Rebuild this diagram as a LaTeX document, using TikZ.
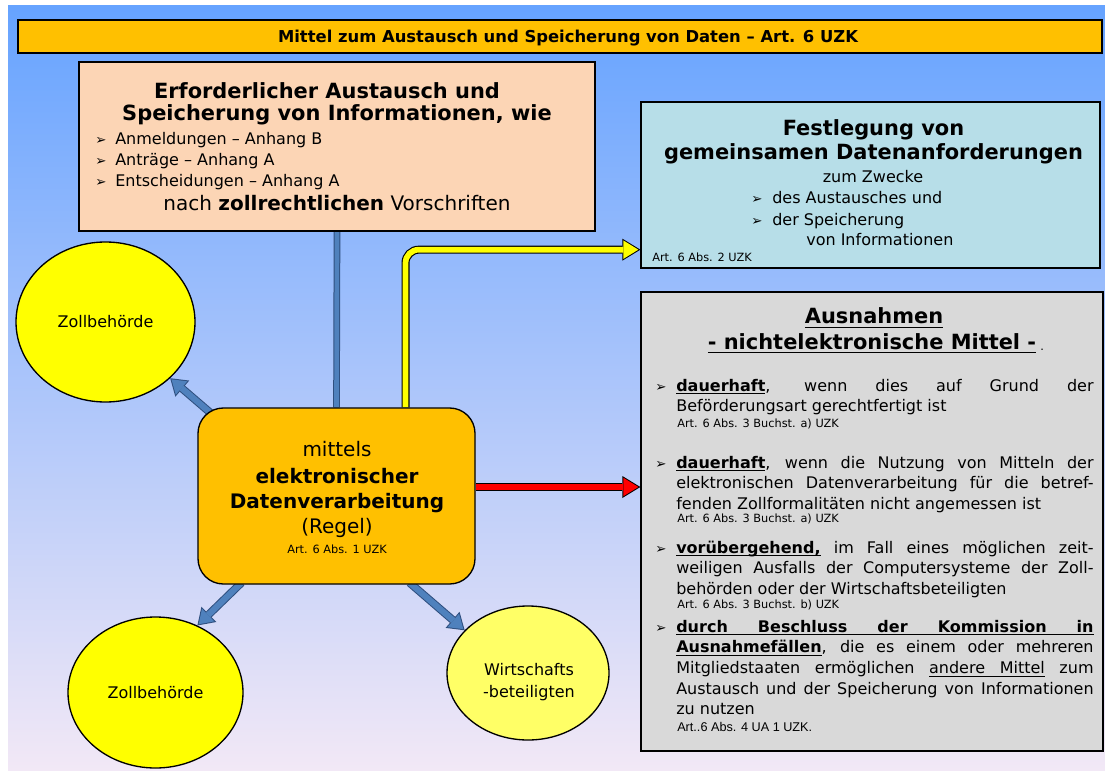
\documentclass[tikz,border=0pt]{standalone}
\usepackage{fontspec}
\setmainfont{DejaVu Sans}
\newfontfamily\arialf{Liberation Sans}
\usetikzlibrary{shapes.geometric,arrows.meta,calc}
\pgfdeclarelayer{bg}
\pgfsetlayers{bg,main}

\definecolor{bgtop}{HTML}{66A3FF}
\definecolor{bgmid}{HTML}{8DC1FF}
\definecolor{bgbot}{HTML}{F2E8F6}
\definecolor{titleor}{HTML}{FFC000}
\definecolor{peach}{HTML}{FCD5B5}
\definecolor{lblue}{HTML}{B7DEE8}
\definecolor{lgray}{HTML}{D9D9D9}
\definecolor{orbox}{HTML}{FFC000}
\definecolor{yel}{HTML}{FFFF00}
\definecolor{yeltwo}{HTML}{FFFF66}
\definecolor{steel}{HTML}{4F81BD}
\definecolor{steeldark}{HTML}{2F4F7F}
\definecolor{redarrow}{HTML}{FF0000}

\newcommand\fsBody{\fontsize{12pt}{15.5pt}\selectfont}
\newcommand\fsHead{\fontsize{15.7pt}{17pt}\selectfont\bfseries}
\newcommand\fsBig{\fontsize{15pt}{17pt}\selectfont}
\newcommand\fsRef{\fontsize{8.5pt}{10pt}\selectfont}
\newcommand\bul{{\fontsize{10pt}{12pt}\selectfont ➢}}
% underline helpers
\newcommand\ulw[1]{\leavevmode\setbox0\hbox{#1}\rlap{\vrule height -0.12em depth 0.19em width \wd0}\box0\relax}
\newcommand\ulsp{\leaders\hrule height -0.12em depth 0.19em\hskip\fontdimen2\font plus \fontdimen3\font minus \fontdimen4\font\relax}

\tikzset{
  box/.style={draw=black, line width=1pt, inner sep=0pt},
  tl/.style={inner sep=0pt, anchor=base west},
  tc/.style={inner sep=0pt, anchor=base},
  para/.style={inner sep=0pt, anchor=north west, text width=313pt, align=justify, font=\fsBody},
  barout/.style={draw=steeldark, line width=5pt},
  barin/.style={draw=steel, line width=3.5pt},
  blout/.style={draw=steeldark, line width=6pt, -{Triangle[width=16pt,length=12pt,line width=0pt]}},
  blin/.style={draw=steel, line width=4.5pt, shorten >=1.35pt, -{Triangle[width=13.2pt,length=9.9pt,line width=0pt]}},
  yelout/.style={draw=black, line width=6pt, rounded corners=10pt, -{Triangle[width=16.5pt,length=13.5pt,line width=0pt]}},
  yelin/.style={draw=yel, line width=4.3pt, rounded corners=10pt, shorten >=1.47pt, -{Triangle[width=13.9pt,length=11.3pt,line width=0pt]}},
  redout/.style={draw=black, line width=6pt, -{Triangle[width=16.5pt,length=13.5pt,line width=0pt]}},
  redin/.style={draw=redarrow, line width=4.3pt, shorten >=1.47pt, -{Triangle[width=13.9pt,length=11.3pt,line width=0pt]}},
}

\begin{document}
\begin{tikzpicture}[x=0.75pt,y=-0.75pt]
\useasboundingbox (0,0) rectangle (1105,773);
\begin{pgfonlayer}{bg}
\fill[white] (0,0) rectangle (1105,773);
\shade[top color=bgtop, middle color=bgmid, bottom color=bgbot] (8,6) rectangle (1105,770);
\end{pgfonlayer}

% title bar
\node[box, fill=titleor, line width=2pt, minimum width=813pt, minimum height=24.75pt] (title) at (560,36.5) {};
\node[tc, font=\fontsize{12.3pt}{14pt}\selectfont\bfseries] (titletext) at (568,43) {Mittel zum Austausch und Speicherung von Daten – Art. 6 UZK};

% peach box
\node[box, fill=peach, minimum width=387pt, minimum height=126.75pt] (peach) at (337,146.5) {};
\node[tc, font=\fsHead] (p1) at (327,99) {Erforderlicher Austausch und};
\node[tc, font=\fsHead] (p2) at (337,121) {Speicherung von Informationen, wie};
\node[tl, font=\fsBody] (pb1) at (95,145) {\bul};
\node[tl, font=\fsBody] (pi1) at (115,145) {Anmeldungen – Anhang B};
\node[tl, font=\fsBody] (pb2) at (95,166) {\bul};
\node[tl, font=\fsBody] (pi2) at (115,166) {Anträge – Anhang A};
\node[tl, font=\fsBody] (pb3) at (95,186.5) {\bul};
\node[tl, font=\fsBody] (pi3) at (115,186.5) {Entscheidungen – Anhang A};
\node[tc, font=\fsBig] (p3) at (337,211) {nach \textbf{zollrechtlichen} Vorschriften};

% light blue box
\node[box, fill=lblue, minimum width=344.25pt, minimum height=124.5pt] (lblue) at (870.5,185) {};
\node[tc, font=\fsHead] (l1) at (873.5,135.5) {Festlegung von};
\node[tc, font=\fsHead] (l2) at (873.5,160) {gemeinsamen Datenanforderungen};
\node[tc, font=\fsBody] (l3) at (873,183) {zum Zwecke};
\node[tl, font=\fsBody] (lb1) at (751,204) {\bul};
\node[tl, font=\fsBody] (li1) at (772,204) {des Austausches und};
\node[tl, font=\fsBody] (lb2) at (751,226) {\bul};
\node[tl, font=\fsBody] (li2) at (772,226) {der Speicherung};
\node[tl, font=\fsBody] (li3) at (806,246) {von Informationen};
\node[tl, font=\fsRef] (lr) at (652,262) {Art. 6 Abs. 2 UZK};

% gray box
\node[box, fill=lgray, minimum width=346.5pt, minimum height=344.25pt] (gray) at (872,521.5) {};
\node[tc, font=\fsHead] (g1) at (874,324) {\ulw{Ausnahmen}};
\node[tc, font=\fsHead] (g2) at (872,349) {\ulw{- nichtelektronische Mittel -}};
\node[tl, font=\fsRef] (gdot) at (1040,350) {.};

\node[tl, font=\fsBody] (gb1) at (655,391) {\bul};
\node[para] (gi1) at (676,375) {\rule{0pt}{12pt}\ulw{\textbf{dauerhaft}}, wenn dies auf Grund der\linebreak Beförderungsart gerechtfertigt ist};
\node[tl, font=\fsRef] (gr1) at (677,427) {Art. 6 Abs. 3 Buchst. a) UZK};

\node[tl, font=\fsBody] (gb2) at (655,468) {\bul};
\node[para] (gi2) at (676,452) {\rule{0pt}{12pt}\ulw{\textbf{dauerhaft}}, wenn die Nutzung von Mitteln der\linebreak elektronischen Datenverarbeitung für die betref-\linebreak fenden Zollformalitäten nicht angemessen ist};
\node[tl, font=\fsRef] (gr2) at (677,522) {Art. 6 Abs. 3 Buchst. a) UZK};

\node[tl, font=\fsBody] (gb3) at (655,553) {\bul};
\node[para] (gi3) at (676,537) {\rule{0pt}{12pt}\ulw{\textbf{vorübergehend,}} im Fall eines möglichen zeit-\linebreak weiligen Ausfalls der Computersysteme der Zoll-\linebreak behörden oder der Wirtschaftsbeteiligten};
\node[tl, font=\fsRef] (gr3) at (677,608) {Art. 6 Abs. 3 Buchst. b) UZK};

\node[tl, font=\fsBody] (gb4) at (655,632) {\bul};
\node[para] (gi4) at (676,616) {\rule{0pt}{12pt}{\bfseries\ulw{durch}\ulsp\ulw{Beschluss}\ulsp\ulw{der}\ulsp\ulw{Kommission}\ulsp\ulw{in}}\linebreak {\bfseries\ulw{Ausnahmefällen}}, die es einem oder mehreren\linebreak Mitgliedstaaten ermöglichen \ulw{andere}\ulsp\ulw{Mittel} zum\linebreak Austausch und der Speicherung von Informationen\linebreak zu nutzen};
\node[tl, font=\arialf\fontsize{9.5pt}{11pt}\selectfont] (gr4) at (677,731) {Art..6 Abs. 4 UA 1 UZK.};

% central orange box
\node[box, fill=orbox, rounded corners=19pt, minimum width=207.75pt, minimum height=132pt] (orange) at (336.5,496) {};
\node[tc, font=\fsBig] (o1) at (337,456.5) {mittels};
\node[tc, font=\fsBig\bfseries] (o2) at (337,483) {elektronischer};
\node[tc, font=\fsBig\bfseries] (o3) at (337,508) {Datenverarbeitung};
\node[tc, font=\fsBig] (o4) at (337,533) {(Regel)};
\node[tc, font=\fsRef] (o5) at (337,553) {Art. 6 Abs. 1 UZK};

% ellipses
\node[box, ellipse, fill=yel, minimum width=134.25pt, minimum height=120pt, font=\fsBody] (z1) at (105.5,322) {Zollbehörde};
\node[box, ellipse, fill=yel, minimum width=131.25pt, minimum height=113.25pt, font=\fsBody] (z2) at (155.5,692.5) {Zollbehörde};
\node[box, ellipse, fill=yeltwo, minimum width=121.5pt, minimum height=100.5pt] (w) at (528,673) {};
\node[tc, font=\fsBody] (w1) at (529,675) {Wirtschafts};
\node[tc, font=\fsBody] (w2) at (529,697) {-beteiligten};

% connectors
\begin{pgfonlayer}{bg}
\draw[barout] (peach.south) -- (orange.north);
\draw[barin] (peach.south) -- (orange.north);
\coordinate (ys) at ($(orange.north)+(69,0)$);
\coordinate (ye) at ($(lblue.south west)+(0,-19)$);
\draw[yelout] (ys) |- (ye);
\draw[yelin] (ys) |- (ye);
\coordinate (rs) at ($(orange.east)+(0,-9)$);
\coordinate (re) at (rs -| gray.west);
\draw[redout] (rs) -- (re);
\draw[redin] (rs) -- (re);
\coordinate (a1s) at ($(orange.north west)+(16,8)$);
\draw[blout] (a1s) -- (z1.-41);
\draw[blin] (a1s) -- (z1.-41);
\coordinate (a2s) at ($(orange.south)+(-95,-2)$);
\draw[blout] (a2s) -- (z2.58);
\draw[blin] (a2s) -- (z2.58);
\coordinate (a3s) at ($(orange.south)+(73,-2)$);
\draw[blout] (a3s) -- (w.146);
\draw[blin] (a3s) -- (w.146);
\end{pgfonlayer}
\end{tikzpicture}
\end{document}
